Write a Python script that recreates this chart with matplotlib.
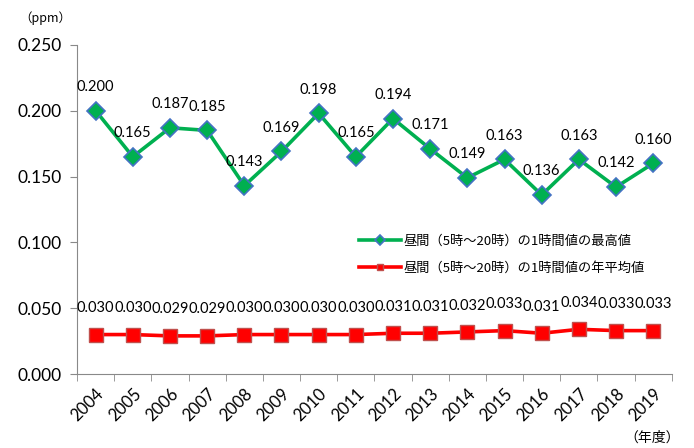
import matplotlib.pyplot as plt
import numpy as np

plt.rcParams['font.family'] = ['Lato', 'Noto Sans CJK JP', 'DejaVu Sans']

years = [str(y) for y in range(2004, 2020)]
max_vals = [0.200, 0.165, 0.187, 0.185, 0.143, 0.169, 0.198, 0.165,
            0.194, 0.171, 0.149, 0.163, 0.136, 0.163, 0.142, 0.160]
avg_vals = [0.030, 0.030, 0.029, 0.029, 0.030, 0.030, 0.030, 0.030,
            0.031, 0.031, 0.032, 0.033, 0.031, 0.034, 0.033, 0.033]
label_max = '昼間（5時～20時）の1時間値の最高値'
label_avg = '昼間（5時～20時）の1時間値の年平均値'

fig = plt.figure(figsize=(6.94, 4.48), dpi=100)
ax = fig.add_axes([0.111, 0.165, 0.857, 0.735])
x = np.arange(len(years))

ax.plot(x, max_vals, color='#00B050', linewidth=2.6, marker='D', markersize=9,
        markerfacecolor='#00B050', markeredgecolor='#4472C4', markeredgewidth=1.2,
        label=label_max, zorder=3)
ax.plot(x, avg_vals, color='#FF0000', linewidth=2.6, marker='s', markersize=10.5,
        markerfacecolor='#FF0000', markeredgecolor='#C0504D', markeredgewidth=1.0,
        label=label_avg, zorder=3)

for xi, v in zip(x, max_vals):
    ax.annotate(f'{v:.3f}', (xi, v), xytext=(0, 17), textcoords='offset points',
                ha='center', va='center', fontsize=10.5)
for xi, v in zip(x, avg_vals):
    ax.annotate(f'{v:.3f}', (xi, v), xytext=(0, 19), textcoords='offset points',
                ha='center', va='center', fontsize=10.5)

ax.set_xlim(-0.5, len(years) - 0.5)
ax.set_ylim(0, 0.25)
ax.set_yticks(np.arange(0, 0.251, 0.05))
ax.set_yticklabels([f'{v:.3f}' for v in np.arange(0, 0.251, 0.05)], fontsize=12.5)
ax.set_xticks(x)
ax.set_xticklabels(years, rotation=45, ha='right', rotation_mode='anchor', fontsize=12)
ax.set_xticks(np.arange(-0.5, len(years)), minor=True)
ax.tick_params(axis='x', which='major', length=0, pad=8)
ax.tick_params(axis='x', which='minor', length=5, color='#898989')
ax.tick_params(axis='y', length=5, color='#898989', pad=6)

for s in ['top', 'right']:
    ax.spines[s].set_visible(False)
for s in ['left', 'bottom']:
    ax.spines[s].set_color('#898989')

leg = ax.legend(loc='upper left', bbox_to_anchor=(0.465, 0.44), frameon=False,
                handlelength=3.2, labelspacing=1.1, handletextpad=0.2,
                borderaxespad=0,
                prop={'family': ['Noto Sans CJK JP', 'DejaVu Sans'], 'size': 9.5})
for h in leg.legend_handles:
    h.set_markersize(5)

fig.text(0.065, 0.96, '（ppm）', fontsize=9, ha='center', va='center',
         family=['Noto Sans CJK JP', 'DejaVu Sans'])
fig.text(0.94, 0.022, '（年度）', fontsize=10, ha='center', va='center',
         family=['Noto Sans CJK JP', 'DejaVu Sans'])

fig.savefig('out.png', dpi=100)
